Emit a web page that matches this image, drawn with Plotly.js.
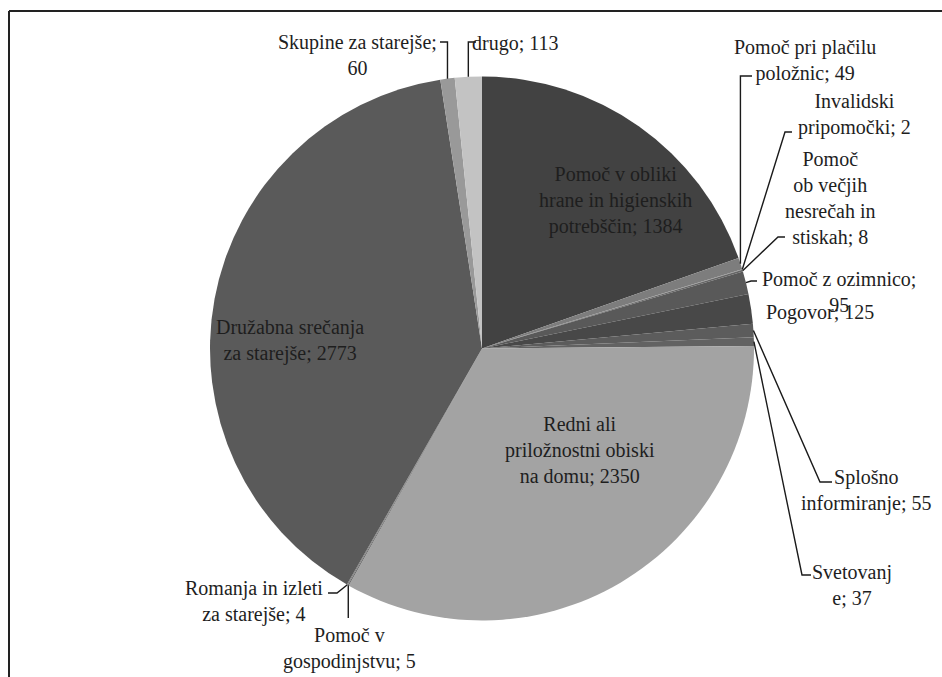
<!DOCTYPE html>
<html><head><meta charset="utf-8">
<script src="https://cdn.plot.ly/plotly-3.0.1.min.js"></script>
<style>
html,body{margin:0;padding:0;background:#fff;font-family:'Liberation Serif',serif}
#chart{width:942px;height:677px}
</style>
</head><body><div id="chart"></div>
<script>
// ---- data ----
const categories = [
  "Pomoč v obliki hrane in higienskih potrebščin",
  "Pomoč pri plačilu položnic",
  "Invalidski pripomočki",
  "Pomoč ob večjih nesrečah in stiskah",
  "Pomoč z ozimnico",
  "Pogovor",
  "Splošno informiranje",
  "Svetovanje",
  "Redni ali priložnostni obiski na domu",
  "Pomoč v gospodinjstvu",
  "Romanja in izleti za starejše",
  "Družabna srečanja za starejše",
  "Skupine za starejše",
  "drugo"
];
const values = [1384, 49, 2, 8, 95, 125, 55, 37, 2350, 5, 4, 2773, 60, 113];
const sliceColors = ["#424242","#7d7d7d","#8a8a8a","#666666","#595959","#484848","#5c5c5c","#626262",
                     "#a3a3a3","#6e6e6e","#7a7a7a","#5a5a5a","#999999","#c3c3c3"];
// where each label wraps (text that starts a new line)
const labelBreaks = [
  ["hrane", "potrebščin"], ["položnic"], ["pripomočki"], ["ob", "nesrečah", "stiskah"],
  ["95"], [], ["informiranje"], ["e; "], ["priložnostni", "na domu"], ["gospodinjstvu"],
  ["za starejše"], ["za starejše"], ["60"], []
];

// ---- layout geometry ----
const W = 942, H = 677;
const CX = 482, CY = 348.5, R = 272;
const FONT = "'Liberation Serif', 'Times New Roman', 'DejaVu Serif', serif";
// label centre (px) and leader route (px, after the slice anchor)
const labelPos = [
  {x: 615, y: 200, lead: null},
  {x: 805, y: 61,  lead: "v", ey: 76, ex: 752},
  {x: 854, y: 114, lead: [[785,132],[792,132]]},
  {x: 830, y: 198, lead: [[778,237],[785,237]]},
  {x: 839, y: 292, lead: [[751,281],[757,281]]},
  {x: 820, y: 312, lead: null},
  {x: 866, y: 490, lead: [[820,482],[832,482]]},
  {x: 852, y: 585, lead: [[802,575],[811,575]]},
  {x: 580, y: 450, lead: null},
  {x: 349, y: 648, lead: "v", ey: 618, ex: null},
  {x: 254, y: 601, lead: [[337,593],[328,593]]},
  {x: 290, y: 340, lead: null},
  {x: 357, y: 55,  lead: "v", ey: 42, ex: 440},
  {x: 515, y: 44,  lead: "v", ey: 42, ex: 476}
];

const px = x => x / W, py = y => 1 - y / H;

function wrapLabel(i) {
  let s = categories[i] + "; " + values[i];
  let from = 0;
  for (const m of labelBreaks[i]) {
    const k = s.indexOf(m, from);
    if (k < 0) continue;
    let a = s.slice(0, k).replace(/ $/, "");
    s = a + "<br>" + s.slice(k);
    from = a.length + 4 + m.length;
  }
  return s;
}

function draw() {
  const total = values.reduce((a, b) => a + b, 0);
  let cum = 0;
  const annotations = [], shapes = [];
  values.forEach((v, i) => {
    const ang = (cum + v / 2) / total * 2 * Math.PI;
    cum += v;
    const ax = CX + R * Math.sin(ang), ay = CY - R * Math.cos(ang);
    const p = labelPos[i];
    annotations.push({
      xref: "paper", yref: "paper", x: px(p.x), y: py(p.y),
      xanchor: "center", yanchor: "middle", align: "center", showarrow: false,
      text: wrapLabel(i),
      font: {family: FONT, size: 20, color: "#1e1e1e"}
    });
    if (p.lead) {
      let pts;
      if (p.lead === "v") {
        pts = [[ax, ay], [ax, p.ey]];
        if (p.ex !== null) pts.push([p.ex, p.ey]);
      } else {
        pts = [[ax, ay]].concat(p.lead);
      }
      const path = pts.map((q, k) => (k ? "L" : "M") + px(q[0]).toFixed(5) + "," + py(q[1]).toFixed(5)).join(" ");
      shapes.push({type: "path", xref: "paper", yref: "paper", path: path,
                   line: {color: "#1a1a1a", width: 1.4}});
    }
  });

  // frame (top and left edges visible)
  shapes.push({type: "line", xref: "paper", yref: "paper", x0: px(9), x1: 1, y0: py(11), y1: py(11), line: {color: "#222", width: 2}});
  shapes.push({type: "line", xref: "paper", yref: "paper", x0: px(9), x1: px(9), y0: py(11), y1: 0, line: {color: "#222", width: 2}});

  const trace = {
    type: "pie",
    labels: categories,
    values: values,
    sort: false,
    direction: "clockwise",
    rotation: 0,
    textinfo: "none",
    hoverinfo: "label+value",
    marker: {colors: sliceColors, line: {width: 0}},
    domain: {x: [px(CX - R), px(CX + R)], y: [py(CY + R), py(CY - R)]},
    showlegend: false
  };

  Plotly.newPlot("chart", [trace], {
    width: W, height: H,
    margin: {l: 0, r: 0, t: 0, b: 0},
    paper_bgcolor: "#fff",
    font: {family: FONT},
    showlegend: false,
    annotations: annotations,
    shapes: shapes
  }, {displayModeBar: false});
}

if (document.fonts && document.fonts.load) {
  document.fonts.load("20px 'Liberation Serif'", "Pomoč").then(draw, draw);
} else {
  draw();
}
</script>
</body></html>
